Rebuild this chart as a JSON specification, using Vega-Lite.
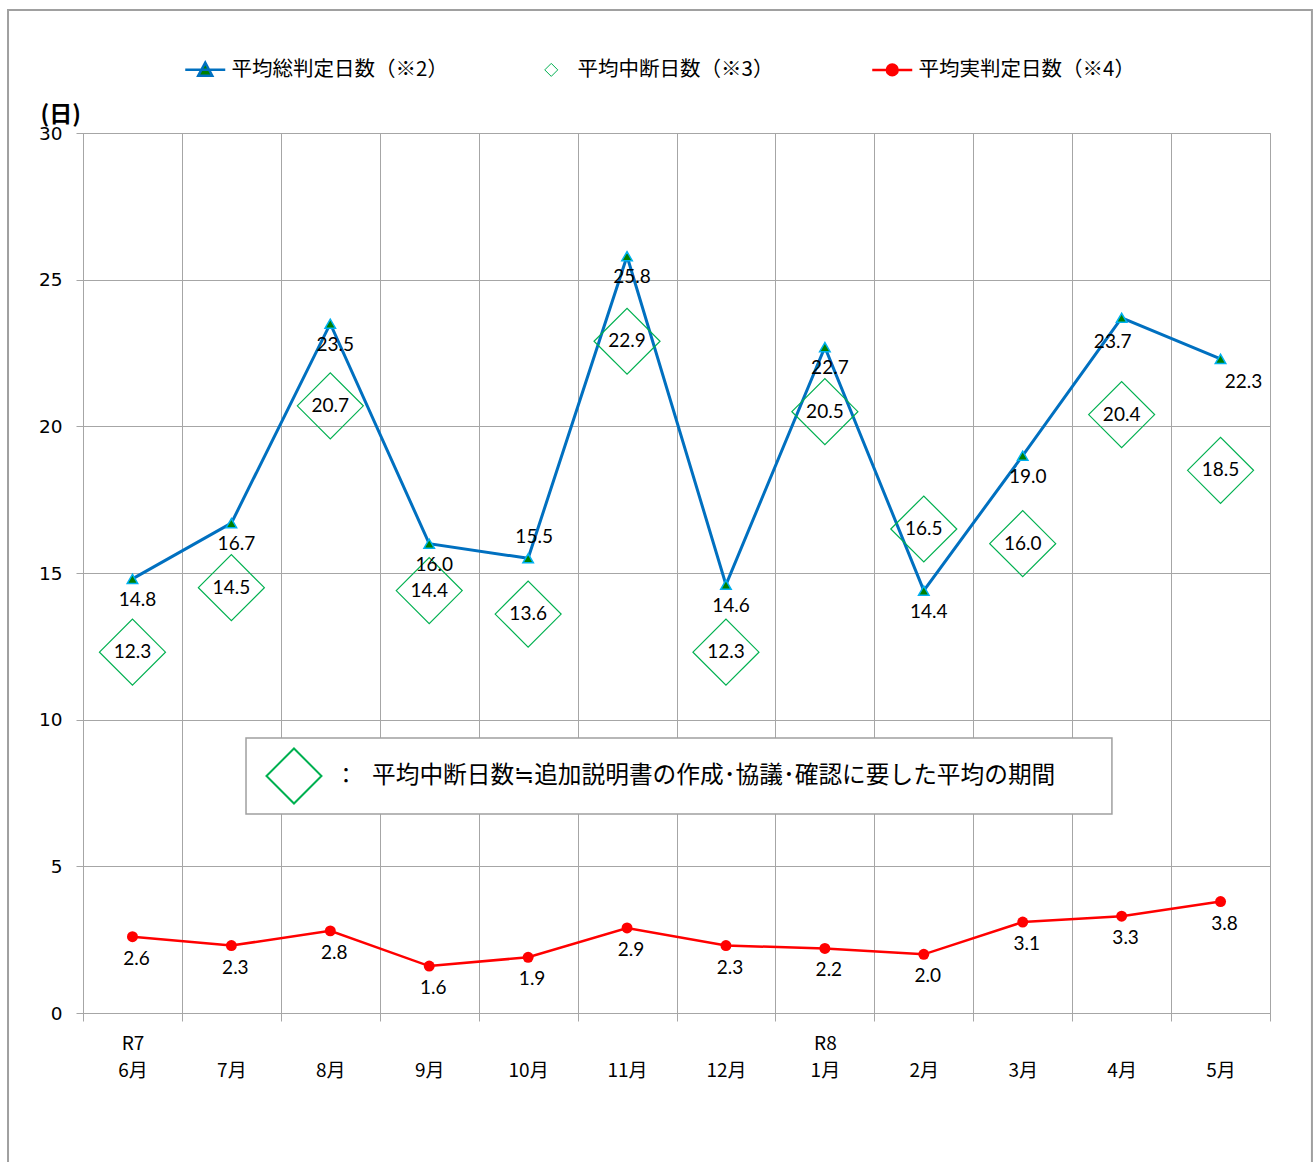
{
  "$schema": "https://vega.github.io/schema/vega-lite/v6.json",
  "width": 1187,
  "height": 880,
  "autosize": {"type": "none"},
  "padding": {"left": 83, "top": 133, "right": 46, "bottom": 149},
  "background": "white",
  "config": {
    "view": {"stroke": "#a6a6a6", "strokeWidth": 1},
    "text": {"font": "Lato", "fontSize": 19, "color": "#000000"}
  },
  "datasets": {
    "main": [
      {"month": "6月", "series": "平均総判定日数（※2）", "value": 14.8},
      {"month": "7月", "series": "平均総判定日数（※2）", "value": 16.7},
      {"month": "8月", "series": "平均総判定日数（※2）", "value": 23.5},
      {"month": "9月", "series": "平均総判定日数（※2）", "value": 16.0},
      {"month": "10月", "series": "平均総判定日数（※2）", "value": 15.5},
      {"month": "11月", "series": "平均総判定日数（※2）", "value": 25.8},
      {"month": "12月", "series": "平均総判定日数（※2）", "value": 14.6},
      {"month": "1月", "series": "平均総判定日数（※2）", "value": 22.7},
      {"month": "2月", "series": "平均総判定日数（※2）", "value": 14.4},
      {"month": "3月", "series": "平均総判定日数（※2）", "value": 19.0},
      {"month": "4月", "series": "平均総判定日数（※2）", "value": 23.7},
      {"month": "5月", "series": "平均総判定日数（※2）", "value": 22.3},
      {"month": "6月", "series": "平均中断日数（※3）", "value": 12.3},
      {"month": "7月", "series": "平均中断日数（※3）", "value": 14.5},
      {"month": "8月", "series": "平均中断日数（※3）", "value": 20.7},
      {"month": "9月", "series": "平均中断日数（※3）", "value": 14.4},
      {"month": "10月", "series": "平均中断日数（※3）", "value": 13.6},
      {"month": "11月", "series": "平均中断日数（※3）", "value": 22.9},
      {"month": "12月", "series": "平均中断日数（※3）", "value": 12.3},
      {"month": "1月", "series": "平均中断日数（※3）", "value": 20.5},
      {"month": "2月", "series": "平均中断日数（※3）", "value": 16.5},
      {"month": "3月", "series": "平均中断日数（※3）", "value": 16.0},
      {"month": "4月", "series": "平均中断日数（※3）", "value": 20.4},
      {"month": "5月", "series": "平均中断日数（※3）", "value": 18.5},
      {"month": "6月", "series": "平均実判定日数（※4）", "value": 2.6},
      {"month": "7月", "series": "平均実判定日数（※4）", "value": 2.3},
      {"month": "8月", "series": "平均実判定日数（※4）", "value": 2.8},
      {"month": "9月", "series": "平均実判定日数（※4）", "value": 1.6},
      {"month": "10月", "series": "平均実判定日数（※4）", "value": 1.9},
      {"month": "11月", "series": "平均実判定日数（※4）", "value": 2.9},
      {"month": "12月", "series": "平均実判定日数（※4）", "value": 2.3},
      {"month": "1月", "series": "平均実判定日数（※4）", "value": 2.2},
      {"month": "2月", "series": "平均実判定日数（※4）", "value": 2.0},
      {"month": "3月", "series": "平均実判定日数（※4）", "value": 3.1},
      {"month": "4月", "series": "平均実判定日数（※4）", "value": 3.3},
      {"month": "5月", "series": "平均実判定日数（※4）", "value": 3.8}
    ]
  },
  "resolve": {"scale": {"x": "independent"}, "axis": {"x": "independent", "y": "independent"}},
  "layer": [
    {
      "data": {"values": [{}]},
      "layer": [
        {
          "mark": {"type": "rect", "fill": null, "stroke": "#a0a0a0", "strokeWidth": 2},
          "encoding": {
            "x": {"datum": -0.758, "type": "quantitative", "scale": {"domain": [0, 12], "nice": false, "zero": false}, "axis": null},
            "x2": {"datum": 12.424},
            "y": {"datum": 34.19, "type": "quantitative", "scale": {"domain": [0, 30], "nice": false}, "axis": null},
            "y2": {"datum": -5.4}
          }
        },
        {
          "mark": {"type": "rect", "fill": "white", "stroke": "#a0a0a0", "strokeWidth": 1.5},
          "encoding": {
            "x": {"datum": 1.648, "type": "quantitative", "scale": {"domain": [0, 12], "nice": false, "zero": false}, "axis": null},
            "x2": {"datum": 10.402},
            "y": {"datum": 9.375, "type": "quantitative", "scale": {"domain": [0, 30], "nice": false}, "axis": null},
            "y2": {"datum": 6.78}
          }
        },
        {
          "mark": {"type": "point", "shape": "diamond", "filled": false, "stroke": "#00b050", "strokeWidth": 2, "size": 3025, "opacity": 1},
          "encoding": {
            "x": {"datum": 2.133, "type": "quantitative", "scale": {"domain": [0, 12], "nice": false, "zero": false}, "axis": null},
            "y": {"datum": 8.08, "type": "quantitative", "scale": {"domain": [0, 30], "nice": false}, "axis": null}
          }
        },
        {
          "mark": {"type": "text", "text": "：", "font": "Noto Sans CJK JP", "fontSize": 22, "align": "center", "baseline": "middle"},
          "encoding": {
            "x": {"datum": 2.659, "type": "quantitative", "scale": {"domain": [0, 12], "nice": false, "zero": false}, "axis": null},
            "y": {"datum": 8.08, "type": "quantitative", "scale": {"domain": [0, 30], "nice": false}, "axis": null}
          }
        },
        {
          "mark": {"type": "text", "text": "平均中断日数≒追加説明書の作成･協議･確認に要した平均の期間", "font": "Noto Sans CJK JP", "fontSize": 23.7, "align": "left", "baseline": "middle"},
          "encoding": {
            "x": {"datum": 2.922, "type": "quantitative", "scale": {"domain": [0, 12], "nice": false, "zero": false}, "axis": null},
            "y": {"datum": 8.08, "type": "quantitative", "scale": {"domain": [0, 30], "nice": false}, "axis": null}
          }
        }
      ]
    },
    {
      "data": {"name": "main"},
      "encoding": {
        "x": {
          "field": "month", "type": "nominal",
          "sort": ["6月", "7月", "8月", "9月", "10月", "11月", "12月", "1月", "2月", "3月", "4月", "5月"],
          "scale": {"type": "band", "paddingInner": 0, "paddingOuter": 0},
          "axis": {
            "title": null, "tickBand": "extent", "grid": true, "gridColor": "#a6a6a6",
            "domainColor": "#a6a6a6", "tickColor": "#a6a6a6", "tickSize": 8,
            "labelExpr": "datum.value == '6月' ? ['R7', '6月'] : datum.value == '1月' ? ['R8', '1月'] : ['', datum.value]",
            "labelFont": "Noto Sans CJK JP", "labelFontSize": 19, "labelColor": "#000000",
            "labelAngle": 0, "labelBaseline": "top", "labelLineHeight": 27, "labelPadding": 13
          }
        },
        "y": {
          "field": "value", "type": "quantitative",
          "scale": {"domain": [0, 30], "nice": false},
          "axis": {
            "values": [0, 5, 10, 15, 20, 25, 30], "grid": true, "gridColor": "#a6a6a6",
            "domainColor": "#a6a6a6", "tickColor": "#a6a6a6", "tickSize": 7,
            "labelFont": "DejaVu Sans", "labelFontSize": 18.5, "labelColor": "#000000", "labelPadding": 14,
            "title": "(日)", "titleAngle": 0, "titleX": -43, "titleY": -19, "titleAlign": "left",
            "titleBaseline": "middle", "titleFont": "Noto Sans CJK JP", "titleFontSize": 23, "titleFontWeight": "bold", "titleColor": "#000000"
          }
        }
      },
      "layer": [
        {
          "transform": [{"filter": "datum.series == '平均総判定日数（※2）'"}],
          "mark": {"type": "line", "strokeWidth": 3},
          "encoding": {
            "color": {
              "field": "series", "type": "nominal",
              "scale": {
                "domain": ["平均総判定日数（※2）", "平均中断日数（※3）", "平均実判定日数（※4）"],
                "range": ["#0070c0", "#00b050", "#ff0000"]
              },
              "legend": {
                "title": null, "orient": "none", "legendX": 112, "legendY": -74,
                "direction": "horizontal", "columnPadding": 93, "padding": 0,
                "labelFont": "Noto Sans CJK JP", "labelFontSize": 20.5, "labelColor": "#000000",
                "labelLimit": 500, "labelOffset": 16, "symbolSize": 1600,
                "encode": {
                  "symbols": {
                    "update": {
                      "shape": {"signal": "datum.value == '平均総判定日数（※2）' ? 'M-1,0H1M-0.35,0.3L0,-0.35L0.35,0.3Z' : datum.value == '平均中断日数（※3）' ? 'diamond' : 'M-1,0H1M0.27,0A0.27,0.27,0,1,1,-0.27,0A0.27,0.27,0,1,1,0.27,0Z'"},
                      "size": {"signal": "datum.value == '平均中断日数（※3）' ? 169 : 1600"},
                      "fill": {"signal": "datum.value == '平均総判定日数（※2）' ? '#008000' : datum.value == '平均中断日数（※3）' ? '#ffffff' : '#ff0000'"},
                      "stroke": {"signal": "datum.value == '平均総判定日数（※2）' ? '#0070c0' : datum.value == '平均中断日数（※3）' ? '#00b050' : '#ff0000'"},
                      "strokeWidth": {"signal": "datum.value == '平均中断日数（※3）' ? 1 : 2.5"},
                      "opacity": {"value": 1},
                      "fillOpacity": {"value": 1}
                    }
                  }
                }
              }
            }
          }
        },
        {
          "transform": [{"filter": "datum.series == '平均実判定日数（※4）'"}],
          "mark": {"type": "line", "strokeWidth": 2.5},
          "encoding": {
            "color": {"field": "series", "type": "nominal"}
          }
        },
        {
          "transform": [{"filter": "datum.series == '平均総判定日数（※2）'"}],
          "mark": {"type": "point", "shape": "triangle-up", "filled": true, "fill": "#008000", "stroke": "#00b0f0", "strokeWidth": 1.5, "size": 110, "opacity": 1}
        },
        {
          "transform": [{"filter": "datum.series == '平均実判定日数（※4）'"}],
          "mark": {"type": "point", "shape": "circle", "filled": true, "fill": "#ff0000", "size": 120, "opacity": 1}
        },
        {
          "transform": [{"filter": "datum.series == '平均中断日数（※3）'"}],
          "mark": {"type": "point", "shape": "diamond", "filled": false, "stroke": "#00b050", "strokeWidth": 1.2, "size": 4356, "opacity": 1}
        },
        {
          "transform": [{"filter": "datum.series == '平均中断日数（※3）'"}],
          "mark": {"type": "text", "align": "center", "baseline": "middle"},
          "encoding": {"text": {"field": "value", "type": "quantitative", "format": ".1f"}}
        },
        {
          "transform": [{"filter": "datum.series == '平均総判定日数（※2）' && datum.month != '10月' && datum.month != '5月' && datum.month != '4月'"}],
          "mark": {"type": "text", "align": "center", "baseline": "middle", "dx": 5, "dy": 21},
          "encoding": {"text": {"field": "value", "type": "quantitative", "format": ".1f"}}
        },
        {
          "transform": [{"filter": "datum.series == '平均総判定日数（※2）' && datum.month == '10月'"}],
          "mark": {"type": "text", "align": "center", "baseline": "middle", "dx": 6, "dy": -21},
          "encoding": {"text": {"field": "value", "type": "quantitative", "format": ".1f"}}
        },
        {
          "transform": [{"filter": "datum.series == '平均総判定日数（※2）' && datum.month == '5月'"}],
          "mark": {"type": "text", "align": "center", "baseline": "middle", "dx": 23, "dy": 23},
          "encoding": {"text": {"field": "value", "type": "quantitative", "format": ".1f"}}
        },
        {
          "transform": [{"filter": "datum.series == '平均総判定日数（※2）' && datum.month == '4月'"}],
          "mark": {"type": "text", "align": "center", "baseline": "middle", "dx": -9, "dy": 24},
          "encoding": {"text": {"field": "value", "type": "quantitative", "format": ".1f"}}
        },
        {
          "transform": [{"filter": "datum.series == '平均実判定日数（※4）'"}],
          "mark": {"type": "text", "align": "center", "baseline": "middle", "dx": 4, "dy": 22},
          "encoding": {"text": {"field": "value", "type": "quantitative", "format": ".1f"}}
        }
      ]
    }
  ]
}
